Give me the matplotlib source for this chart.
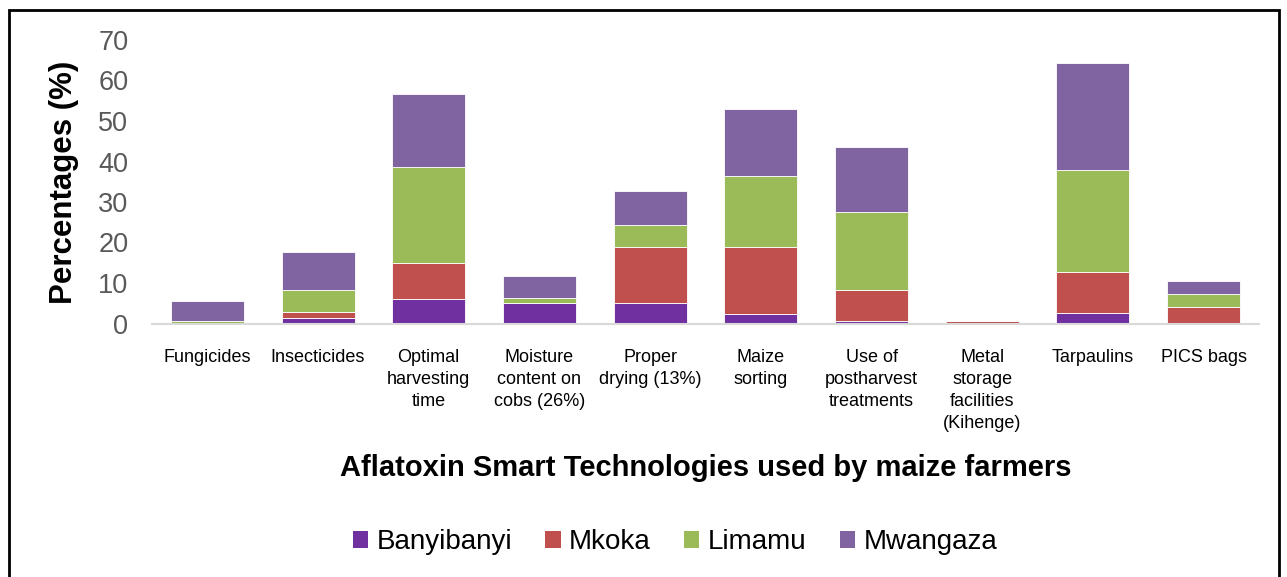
import matplotlib
matplotlib.use("Agg")
import matplotlib.pyplot as plt
from matplotlib.patches import Rectangle, Patch
import numpy as np

plt.rcParams['font.family'] = ['Liberation Sans', 'DejaVu Sans']

categories = ["Fungicides", "Insecticides", "Optimal\nharvesting\ntime",
              "Moisture\ncontent on\ncobs (26%)", "Proper\ndrying (13%)",
              "Maize\nsorting", "Use of\npostharvest\ntreatments",
              "Metal\nstorage\nfacilities\n(Kihenge)", "Tarpaulins", "PICS bags"]
series_names = ["Banyibanyi", "Mkoka", "Limamu", "Mwangaza"]
banyibanyi = [0.0, 1.4, 6.0, 5.1, 5.1, 2.4, 0.7, 0.0, 2.5, 0.0]
mkoka      = [0.0, 1.4, 8.9, 0.0, 13.9, 16.6, 7.6, 0.7, 10.2, 4.1]
limamu     = [0.7, 5.5, 23.8, 1.3, 5.2, 17.4, 19.2, 0.0, 25.2, 3.3]
mwangaza   = [4.9, 9.3, 17.9, 5.3, 8.6, 16.5, 16.2, 0.0, 26.3, 3.2]
colors = ["#7030A0", "#C0504D", "#9BBB59", "#8064A2"]
yticks = [0, 10, 20, 30, 40, 50, 60, 70]

fig = plt.figure(figsize=(12.87, 5.77), dpi=100)
W, H = 1287, 577
ax = fig.add_axes([152/W, 1-323.5/H, (1259-152)/W, (323.5-40)/H])

x = np.arange(len(categories))
bottom = np.zeros(len(categories))
for name, vals, c in zip(series_names, [banyibanyi, mkoka, limamu, mwangaza], colors):
    v = np.array(vals)
    ax.bar(x, v, width=0.66, bottom=bottom, color=c, edgecolor="#ffffff",
           linewidth=0.6, label=name)
    bottom += v

ax.set_xlim(-0.5, len(categories)-0.5)
ax.set_ylim(0, 70)
ax.set_yticks(yticks)
ax.set_yticklabels([str(t) for t in yticks], fontsize=19.5, color="#595959")
ax.set_xticks(x)
ax.set_xticklabels(categories, fontsize=13, color="#000000", linespacing=1.4, va="top")
ax.tick_params(axis="both", length=0)
ax.tick_params(axis="x", pad=18)
ax.tick_params(axis="y", pad=17)
for s in ["top", "right", "left"]:
    ax.spines[s].set_visible(False)
ax.spines["bottom"].set_color("#D9D9D9")
ax.spines["bottom"].set_linewidth(1.5)

fig.text(64/W, 1-182/H, "Percentages (%)", rotation=90, fontsize=22.5, fontweight="bold",
         ha="center", va="center")
fig.text(706/W, 1-468/H, "Aflatoxin Smart Technologies used by maize farmers",
         fontsize=21, fontweight="bold", ha="center", va="center")

handles = [Patch(facecolor=c, edgecolor="none") for c in colors]
fig.legend(handles, series_names, loc="center", bbox_to_anchor=(675/W, 1-542/H),
           ncol=4, frameon=False, fontsize=20, handlelength=0.55, handleheight=0.55,
           handletextpad=0.3, columnspacing=1.2)

fig.patches.append(Rectangle((9/W, -0.05), (1279-9)/W, 1.05-10/H + 0.0,
                             transform=fig.transFigure, fill=False,
                             edgecolor="black", linewidth=2))

fig.savefig("out.png", dpi=100)
